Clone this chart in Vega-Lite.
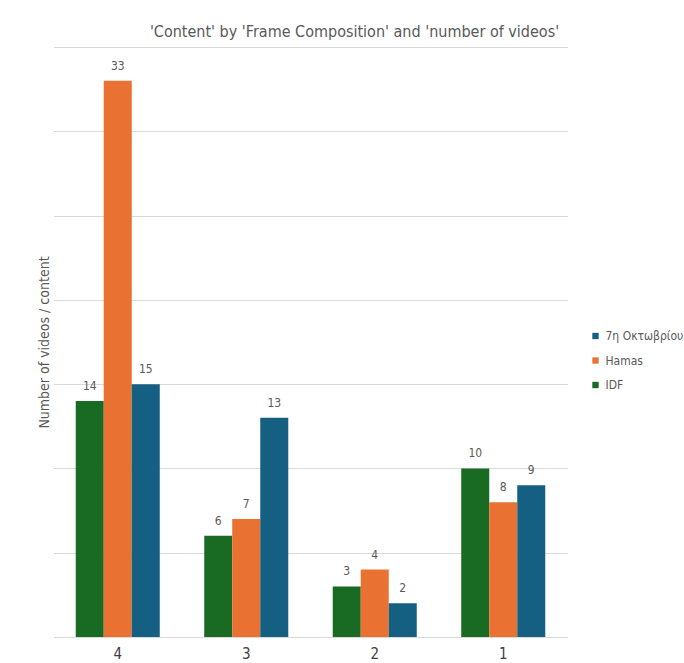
{
  "$schema": "https://vega.github.io/schema/vega-lite/v6.json",
  "width": 514,
  "height": 590,
  "autosize": {"type": "none"},
  "padding": {"left": 53.5, "top": 47, "right": 116.5, "bottom": 26},
  "background": "white",
  "title": {
    "text": "'Content' by 'Frame Composition' and 'number of videos'",
    "font": "Liberation Sans Narrow, DejaVu Sans Condensed, sans-serif",
    "fontSize": 16,
    "fontWeight": "normal",
    "color": "#595959",
    "anchor": "middle",
    "dx": 44,
    "offset": 7
  },
  "data": {
    "values": [
      {"composition": "4", "content": "IDF", "videos": 14},
      {"composition": "4", "content": "Hamas", "videos": 33},
      {"composition": "4", "content": "7η Οκτωβρίου", "videos": 15},
      {"composition": "3", "content": "IDF", "videos": 6},
      {"composition": "3", "content": "Hamas", "videos": 7},
      {"composition": "3", "content": "7η Οκτωβρίου", "videos": 13},
      {"composition": "2", "content": "IDF", "videos": 3},
      {"composition": "2", "content": "Hamas", "videos": 4},
      {"composition": "2", "content": "7η Οκτωβρίου", "videos": 2},
      {"composition": "1", "content": "IDF", "videos": 10},
      {"composition": "1", "content": "Hamas", "videos": 8},
      {"composition": "1", "content": "7η Οκτωβρίου", "videos": 9}
    ]
  },
  "encoding": {
    "x": {
      "field": "composition",
      "type": "nominal",
      "sort": ["4", "3", "2", "1"],
      "scale": {"paddingInner": 0.346, "paddingOuter": 0.173},
      "axis": {
        "title": null,
        "labelAngle": 0,
        "ticks": false,
        "domain": false,
        "labelPadding": 9,
        "labelFontSize": 15,
        "labelColor": "#404040",
        "labelFont": "Liberation Sans Narrow, DejaVu Sans Condensed, sans-serif"
      }
    },
    "xOffset": {
      "field": "content",
      "type": "nominal",
      "sort": ["IDF", "Hamas", "7η Οκτωβρίου"],
      "scale": {"paddingInner": 0, "paddingOuter": 0}
    },
    "y": {
      "field": "videos",
      "type": "quantitative",
      "scale": {"domain": [0, 35], "nice": false},
      "axis": {
        "title": "Number of videos / content",
        "titleFont": "Liberation Sans Narrow, DejaVu Sans Condensed, sans-serif",
        "titleFontSize": 14,
        "titleFontWeight": "normal",
        "titleColor": "#595959",
        "titlePadding": 2,
        "values": [0, 5, 10, 15, 20, 25, 30, 35],
        "labels": false,
        "ticks": false,
        "domain": false,
        "grid": true,
        "gridColor": "#D9D9D9",
        "gridWidth": 1
      }
    }
  },
  "layer": [
    {
      "mark": {"type": "bar"},
      "encoding": {
        "color": {
          "field": "content",
          "type": "nominal",
          "scale": {
            "domain": ["7η Οκτωβρίου", "Hamas", "IDF"],
            "range": ["#156082", "#E97132", "#196B24"]
          },
          "legend": {
            "title": null,
            "orient": "none",
            "legendX": 536,
            "legendY": 283,
            "symbolType": "square",
            "symbolSize": 40,
            "symbolStrokeWidth": 0,
            "labelFont": "Liberation Sans Narrow, DejaVu Sans Condensed, sans-serif",
            "labelFontSize": 12,
            "labelColor": "#595959",
            "labelOffset": 4,
            "rowPadding": 12.5
          }
        }
      }
    },
    {
      "mark": {
        "type": "text",
        "dy": -8,
        "baseline": "bottom",
        "font": "Liberation Sans Narrow, DejaVu Sans Condensed, sans-serif",
        "fontSize": 12,
        "color": "#595959"
      },
      "encoding": {
        "text": {"field": "videos", "type": "quantitative"}
      }
    }
  ],
  "config": {
    "view": {"stroke": null}
  }
}
